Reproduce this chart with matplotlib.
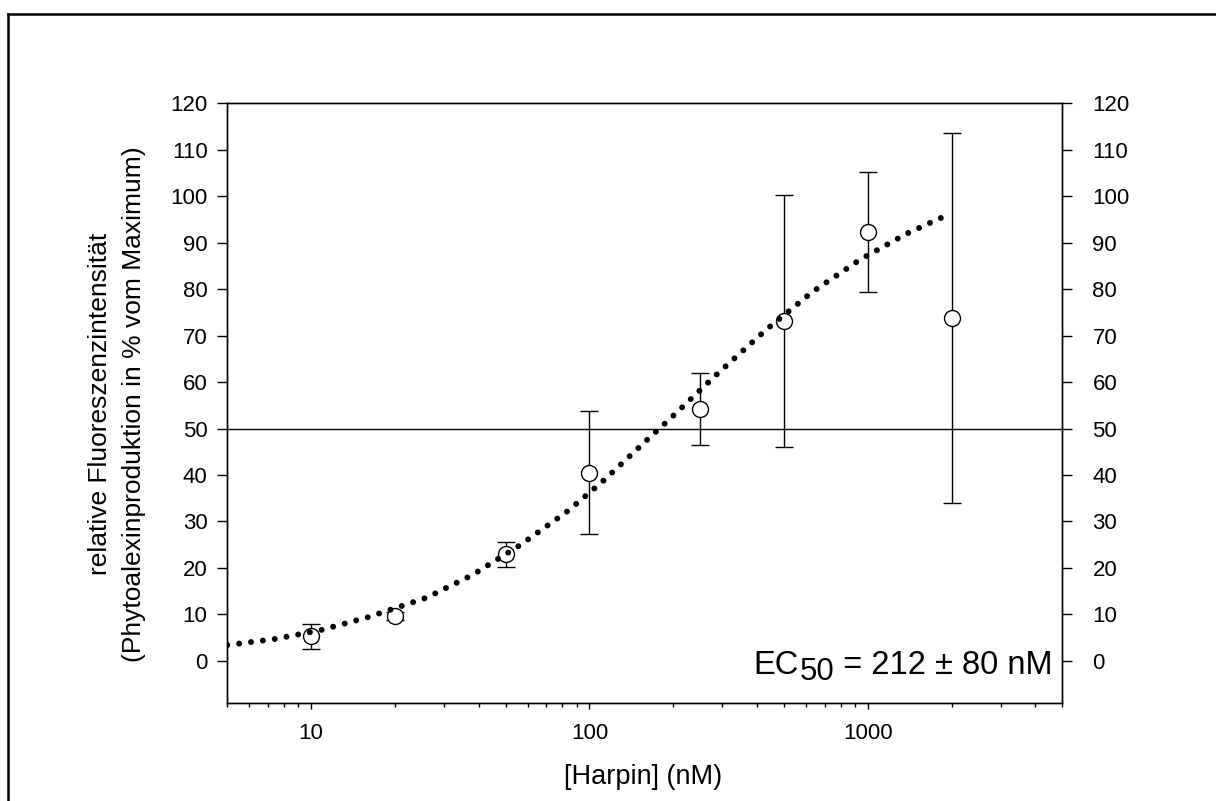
import matplotlib
matplotlib.use("Agg")
import matplotlib.pyplot as plt
from matplotlib.ticker import LogLocator, NullFormatter, FixedLocator
from matplotlib.lines import Line2D

plt.rcParams['font.family'] = ['Liberation Sans', 'DejaVu Sans']

# ---- data ----
conc = [10, 20, 50, 100, 250, 500, 1000, 2000]
response = [5.3, 9.7, 22.9, 40.5, 54.2, 73.2, 92.3, 73.8]
response_err = [2.65, 0.9, 2.6, 13.3, 7.8, 27.1, 13.0, 39.9]

fit_x = [5, 7.4, 10.8, 16, 26, 38, 56, 83, 111, 162, 198, 292, 430, 632, 935, 1375, 1842, 1900]
fit_y = [3.4, 4.7, 6.6, 9.4, 13.6, 18.5, 24.8, 32.1, 38.5, 47.7, 52.5, 62.1, 71.2, 79.4, 86.3, 91.9, 95.4, 95.7]

half_max = 50
y_ticks = list(range(0, 121, 10))
x_ticks = [10, 100, 1000]
x_ticklabels = ['10', '100', '1000']

W, H = 1216, 801
fig = plt.figure(figsize=(W / 100, H / 100), dpi=100)

ax_l, ax_r, ax_t, ax_b = 227.3, 1062.3, 103.3, 702.7
ax = fig.add_axes([ax_l / W, 1 - ax_b / H, (ax_r - ax_l) / W, (ax_b - ax_t) / H])

ax.set_xscale('log')
ax.set_xlim(5, 5000)
ax.set_ylim(-9, 120)

ax.axhline(half_max, color='k', lw=1.0, zorder=1)

ax.errorbar(conc, response, yerr=response_err, fmt='o', ms=11.5, mfc='white', mec='k',
            mew=1.0, ecolor='k', elinewidth=1.0, capsize=6.5, capthick=1.0, zorder=3)

ax.plot(fit_x, fit_y, color='k', lw=4.3, linestyle=(0, (0.001, 2.0)),
        dash_capstyle='round', solid_capstyle='round', zorder=4)

for s in ax.spines.values():
    s.set_linewidth(1.0)

ax.xaxis.set_major_locator(FixedLocator(x_ticks))
ax.set_xticklabels(x_ticklabels)
ax.xaxis.set_minor_locator(LogLocator(base=10, subs=[2, 3, 4, 5, 6, 7, 8, 9], numticks=20))
ax.xaxis.set_minor_formatter(NullFormatter())
ax.tick_params(axis='x', which='major', direction='out', length=4.3, width=1.0,
               labelsize=16, pad=10)
ax.tick_params(axis='x', which='minor', direction='out', length=3.2, width=1.0)

ax.set_yticks(y_ticks)
ax.tick_params(axis='y', which='major', direction='out', length=7.2, width=1.0,
               labelsize=16, pad=7)

ax2 = ax.twinx()
ax2.set_ylim(ax.get_ylim())
ax2.set_yticks(y_ticks)
ax2.tick_params(axis='y', which='major', direction='out', length=7.2, width=1.0,
                labelsize=16, pad=14.5)
for s in ax2.spines.values():
    s.set_linewidth(1.0)

# axis labels
fig.text(643 / W, 1 - 776.5 / H, '[Harpin] (nM)', ha='center', va='center', fontsize=19.5)
fig.text(100 / W, 1 - 404 / H, 'relative Fluoreszenzintensität', ha='center', va='center',
         rotation=90, fontsize=19)
fig.text(134 / W, 1 - 404 / H, '(Phytoalexinproduktion in % vom Maximum)', ha='center',
         va='center', rotation=90, fontsize=19)

# EC50 annotation (subscript as lowered same-size text)
fig.canvas.draw()
r = fig.canvas.get_renderer()
t3 = fig.text(1053 / W, 1 - 674 / H, ' = 212 ± 80 nM', ha='right', va='baseline', fontsize=23.5)
bb = t3.get_window_extent(r)
t2 = fig.text(bb.x0 / W, 1 - 680.5 / H, '50', ha='right', va='baseline', fontsize=22.5)
bb2 = t2.get_window_extent(r)
fig.text((bb2.x0 - 1) / W, 1 - 674 / H, 'EC', ha='right', va='baseline', fontsize=23.5)

# outer frame (only left and top visible in reference)
fx = 8 / W
fy = 1 - 14 / H
fig.add_artist(Line2D([fx, fx], [fy, -0.05], transform=fig.transFigure, color='k', lw=1.8,
                      solid_capstyle='projecting'))
fig.add_artist(Line2D([fx, 1.05], [fy, fy], transform=fig.transFigure, color='k', lw=1.8,
                      solid_capstyle='projecting'))

fig.savefig('out.png', dpi=100)
